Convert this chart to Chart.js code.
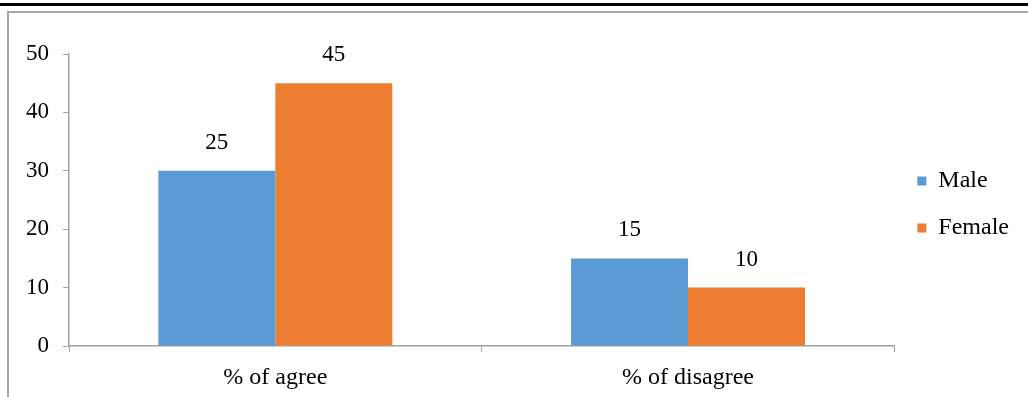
<!DOCTYPE html>
<html>
<head>
<meta charset="utf-8">
<script src="https://cdn.jsdelivr.net/npm/chart.js@4"></script>
<style>
  body { margin: 0; background: #fff; }
  #wrap { position: relative; width: 1028px; height: 397px; overflow: hidden; }
  #topline { position: absolute; left: 0; top: 3px; width: 1028px; height: 3px; background: #000; }
  #frame { position: absolute; left: 7px; top: 11px; width: 1030px; height: 400px;
           border-left: 2px solid #a6a6a6; border-top: 2px solid #a6a6a6; }
  canvas { position: absolute; left: 0; top: 0; }
</style>
</head>
<body>
<div id="wrap">
  <div id="topline"></div>
  <div id="frame"></div>
  <canvas id="chart" width="1028" height="397"></canvas>
</div>
<script>
const categories = ["% of agree", "% of disagree"]
const maleValues = [30, 15]
const femaleValues = [45, 10]
// printed labels above the bars (as shown in the picture)
const maleLabels = ["25", "15"]
const femaleLabels = ["45", "10"]
const yTicks = [0, 10, 20, 30, 40, 50]

const serif = "'Liberation Serif', 'Times New Roman', serif"

const barLabels = {
    id: "barLabels",
    afterDatasetsDraw(chart) {
        const ctx = chart.ctx
        const texts = [maleLabels, femaleLabels]
        ctx.save()
        ctx.font = "23px " + serif
        ctx.fillStyle = "#000"
        ctx.textAlign = "center"
        ctx.textBaseline = "middle"
        chart.data.datasets.forEach((ds, i) => {
            chart.getDatasetMeta(i).data.forEach((bar, j) => {
                ctx.fillText(texts[i][j], bar.x, bar.y - 28)
            })
        })
        ctx.restore()
    }
}

// legend sits a bit higher than the centre of its box
const legendShift = {
    id: "legendShift",
    afterLayout(chart) {
        chart.legend.top -= 21
        chart.legend.bottom -= 21
    }
}

new Chart("chart", {
    type: "bar",
    data: {
        labels: categories,
        datasets: [
            {
                label: "Male",
                data: maleValues,
                backgroundColor: "#5b9bd5",
                borderWidth: 0
            },
            {
                label: "Female",
                data: femaleValues,
                backgroundColor: "#ed7d31",
                borderWidth: 0
            }
        ]
    },
    options: {
        responsive: false,
        animation: false,
        layout: { padding: { left: 7, top: 54, right: 9, bottom: 0 } },
        datasets: { bar: { categoryPercentage: 0.567, barPercentage: 1 } },
        plugins: {
            tooltip: { enabled: false },
            legend: {
                position: "right",
                labels: {
                    boxWidth: 9,
                    boxHeight: 9,
                    padding: 23,
                    color: "#000",
                    font: { family: serif, size: 24 }
                }
            }
        },
        scales: {
            x: {
                grid: { drawOnChartArea: false, tickLength: 6, color: "#a0a0a0", offset: true },
                border: { color: "#a0a0a0", width: 1.5 },
                ticks: { color: "#000", padding: 11, font: { family: serif, size: 24 } },
                afterFit(scale) { scale.height = 51 }
            },
            y: {
                min: 0,
                max: 50,
                afterBuildTicks(scale) { scale.ticks = yTicks.map(v => ({ value: v })) },
                grid: { drawOnChartArea: false, tickLength: 6, color: "#a0a0a0" },
                border: { color: "#a0a0a0", width: 1.5 },
                ticks: { color: "#000", padding: 14, font: { family: serif, size: 23 } },
                afterFit(scale) { scale.width = 62 }
            }
        }
    },
    plugins: [barLabels, legendShift]
})
</script>
</body>
</html>
